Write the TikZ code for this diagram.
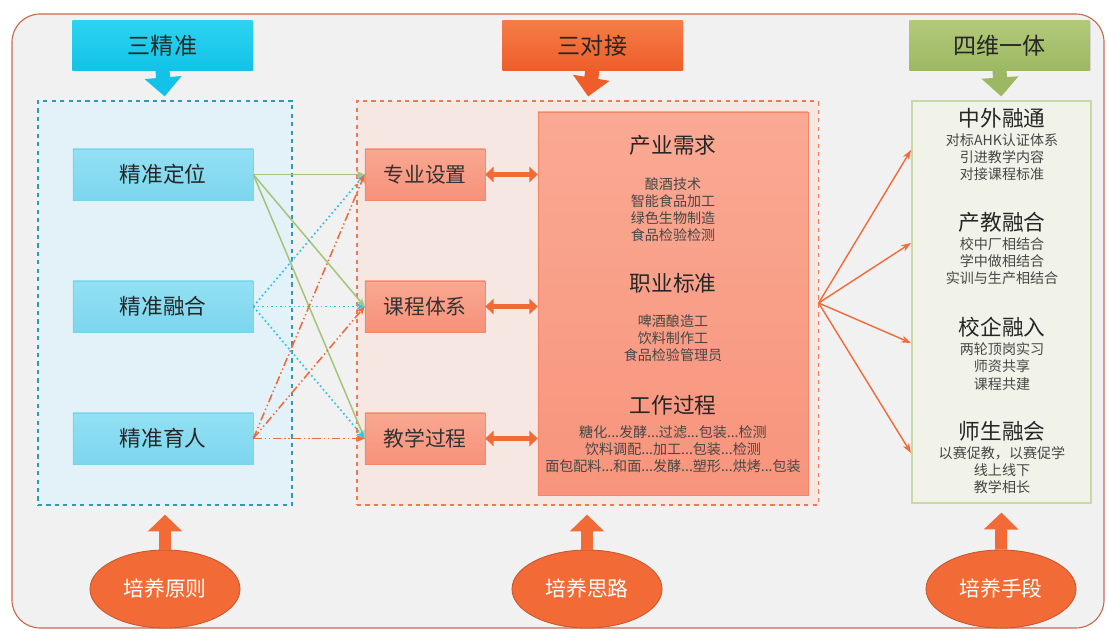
\documentclass[tikz,border=0pt]{standalone}
\usepackage{fontspec}
\setmainfont{Noto Sans CJK SC}
\usetikzlibrary{arrows.meta,shadows,shapes.geometric}
\tikzset{
  head/.style={rectangle, inner sep=0pt, minimum width=4.5cm, minimum height=1.225cm, text=black!85, font=\fontsize{16.4}{19}\selectfont, drop shadow={opacity=0.25, shadow xshift=0.7pt, shadow yshift=-0.9pt}},
  grp/.style={rectangle, inner sep=0pt, dashed, line width=0.8pt},
  jzbox/.style={rectangle, inner sep=0pt, minimum width=4.5cm, minimum height=1.275cm, draw=jzline, top color=jztop, bottom color=jzbot, text=black!85, font=\fontsize{15.4}{18}\selectfont},
  djbox/.style={rectangle, inner sep=0pt, minimum width=3cm, minimum height=1.275cm, draw=djline, top color=djtop, bottom color=djbot, text=black!80, font=\fontsize{14.8}{18}\selectfont},
  ttl/.style={inner sep=0pt, text=black!85, font=\fontsize{15.4}{18}\selectfont},
  itm/.style={inner sep=0pt, align=center, text=black!72, font=\fontsize{10}{12.2}\selectfont},
  base/.style={ellipse, inner sep=0pt, minimum width=3.75cm, minimum height=1.95cm, draw=elline, line width=0.6pt, fill=elfill, text=white, font=\fontsize{14.8}{18}\selectfont},
  dnarrow/.style={line width=10pt, -{Triangle[length=13.5pt,width=25.6pt]}, shorten >=2.8pt},
  uparrow/.style={line width=8.5pt, draw=elfill, -{Triangle[length=12pt,width=24pt]}, shorten >=6.4pt},
  dbl/.style={line width=3.5pt, draw=elfill, {Triangle[length=6pt,width=11pt]}-{Triangle[length=6pt,width=11pt]}},
  gline/.style={draw=glcol, line width=1.1pt, -{Stealth[length=6pt,width=5pt]}},
  cline/.style={draw=clcol, line width=1.2pt, dotted, -{Stealth[length=6pt,width=5pt]}},
  oline/.style={draw=olcol, line width=1.1pt, dash pattern=on 6pt off 2pt on 1pt off 2pt on 1pt off 2pt, -{Stealth[length=6pt,width=5pt]}},
  fanline/.style={draw=elfill, line width=1pt, -{Stealth[length=7pt,width=5pt]}}
}
\begin{document}
\begin{tikzpicture}[x=0.025cm, y=-0.025cm]
\definecolor{bgfill}{HTML}{F1F1F1}
\definecolor{bgline}{HTML}{C96A4E}
\definecolor{lgfill}{HTML}{E2F2F8}
\definecolor{lgline}{HTML}{2A9DB5}
\definecolor{mgfill}{HTML}{F6E7E2}
\definecolor{mgline}{HTML}{F07A50}
\definecolor{rbfill}{HTML}{F1F2E8}
\definecolor{rbline}{HTML}{C7D9A4}
\definecolor{jztop}{HTML}{93E0F3}
\definecolor{jzbot}{HTML}{7CD6EE}
\definecolor{jzline}{HTML}{7AD3EA}
\definecolor{djtop}{HTML}{F9A891}
\definecolor{djbot}{HTML}{F7917A}
\definecolor{djline}{HTML}{F4876A}
\definecolor{bigtop}{HTML}{FAA994}
\definecolor{bigbot}{HTML}{F8947C}
\definecolor{elfill}{HTML}{F26B36}
\definecolor{elline}{HTML}{C9542C}
\definecolor{glcol}{HTML}{A6C57C}
\definecolor{clcol}{HTML}{2EC3E8}
\definecolor{olcol}{HTML}{F06A3A}
\definecolor{cytop}{HTML}{2DD3F0}
\definecolor{cybot}{HTML}{12C2E8}
\definecolor{ortop}{HTML}{F57C46}
\definecolor{orbot}{HTML}{EE5E2A}
\definecolor{grtop}{HTML}{B2C97A}
\definecolor{grbot}{HTML}{9DB862}
\useasboundingbox (0,0) rectangle (1108,630);
\fill[white] (0,0) rectangle (1108,630);
\draw[draw=bgline, fill=bgfill, line width=0.8pt, rounded corners=0.7cm] (12,14) rectangle (1104,628);

\node[grp, draw=lgline, fill=lgfill, minimum width=6.35cm, minimum height=10.1cm] (lgrp) at (165,303) {};
\node[grp, draw=mgline, fill=mgfill, minimum width=11.525cm, minimum height=10.1cm] (mgrp) at (587.5,303) {};
\node[rectangle, inner sep=0pt, draw=rbline, fill=rbfill, line width=0.8pt, minimum width=4.475cm, minimum height=10.05cm] (rbox) at (1001.5,302) {};
\node[rectangle, inner sep=0pt, draw=djline, top color=bigtop, bottom color=bigbot, minimum width=6.75cm, minimum height=9.575cm] (big) at (673,303.5) {};

\node[head, top color=cytop, bottom color=cybot] (h1) at (162.5,45.5) {三精准};
\node[head, top color=ortop, bottom color=orbot] (h2) at (592.5,45.5) {三对接};
\node[head, top color=grtop, bottom color=grbot] (h3) at (999.5,45.5) {四维一体};
\draw[dnarrow, draw=cybot] (h1.south) -- (lgrp.north);
\draw[dnarrow, draw=orbot] (h2.south) -- (mgrp.north);
\draw[dnarrow, draw=grbot] (h3.south) -- (rbox.north);

\node[jzbox] (jz1) at (163,174.5) {精准定位};
\node[jzbox] (jz2) at (163,306.5) {精准融合};
\node[jzbox] (jz3) at (163,438.5) {精准育人};
\node[djbox] (dj1) at (425,174.5) {专业设置};
\node[djbox] (dj2) at (425,306.5) {课程体系};
\node[djbox] (dj3) at (425,438.5) {教学过程};

\draw[gline] (jz1.east) -- (dj1.west);
\draw[gline] (jz1.east) -- (dj2.west);
\draw[gline] (jz1.east) -- (dj3.west);
\draw[cline] (jz2.east) -- (dj1.west);
\draw[cline] (jz2.east) -- (dj2.west);
\draw[cline] (jz2.east) -- (dj3.west);
\draw[oline] (jz3.east) -- (dj1.west);
\draw[oline] (jz3.east) -- (dj2.west);
\draw[oline] (jz3.east) -- (dj3.west);

\draw[dbl] (dj1.east) -- (dj1.east -| big.west);
\draw[dbl] (dj2.east) -- (dj2.east -| big.west);
\draw[dbl] (dj3.east) -- (dj3.east -| big.west);

\node[ttl] (cyxq) at (673,145) {产业需求};
\node[itm] (cyxqi) at (673,209.5) {酿酒技术\\智能食品加工\\绿色生物制造\\食品检验检测};
\node[ttl] (zybz) at (673,283) {职业标准};
\node[itm] (zybzi) at (673,338) {啤酒酿造工\\饮料制作工\\食品检验管理员};
\node[ttl] (gzgc) at (673,405) {工作过程};
\node[itm] (gzgci) at (673,449) {糖化...发酵...过滤...包装...检测\\饮料调配...加工...包装...检测\\面包配料...和面...发酵...塑形...烘烤...包装};

\node[ttl] (zwrt) at (1002,118) {中外融通};
\node[itm] (zwrti) at (1002,157.5) {对标AHK认证体系\\引进教学内容\\对接课程标准};
\node[ttl] (cjrh) at (1002,222) {产教融合};
\node[itm] (cjrhi) at (1002,261.5) {校中厂相结合\\学中做相结合\\实训与生产相结合};
\node[ttl] (xqrr) at (1002,327) {校企融入};
\node[itm] (xqrri) at (1002,366.5) {两轮顶岗实习\\师资共享\\课程共建};
\node[ttl] (ssrh) at (1002,431) {师生融会};
\node[itm] (ssrhi) at (1002,470) {以赛促教，以赛促学\\线上线下\\教学相长};

\coordinate (in1) at (911,150);
\coordinate (in2) at (911,243);
\coordinate (in3) at (911,343);
\coordinate (in4) at (911,453);
\draw[fanline] (mgrp.east) -- (in1);
\draw[fanline] (mgrp.east) -- (in2);
\draw[fanline] (mgrp.east) -- (in3);
\draw[fanline] (mgrp.east) -- (in4);

\node[base] (e1) at (165,589) {培养原则};
\node[base] (e2) at (587,589) {培养思路};
\node[base] (e3) at (1001,589) {培养手段};
\draw[uparrow] (e1.north) -- (lgrp.south);
\draw[uparrow] (e2.north) -- (e2.north |- mgrp.south);
\draw[uparrow] (e3.north) -- (rbox.south);
\end{tikzpicture}
\end{document}
